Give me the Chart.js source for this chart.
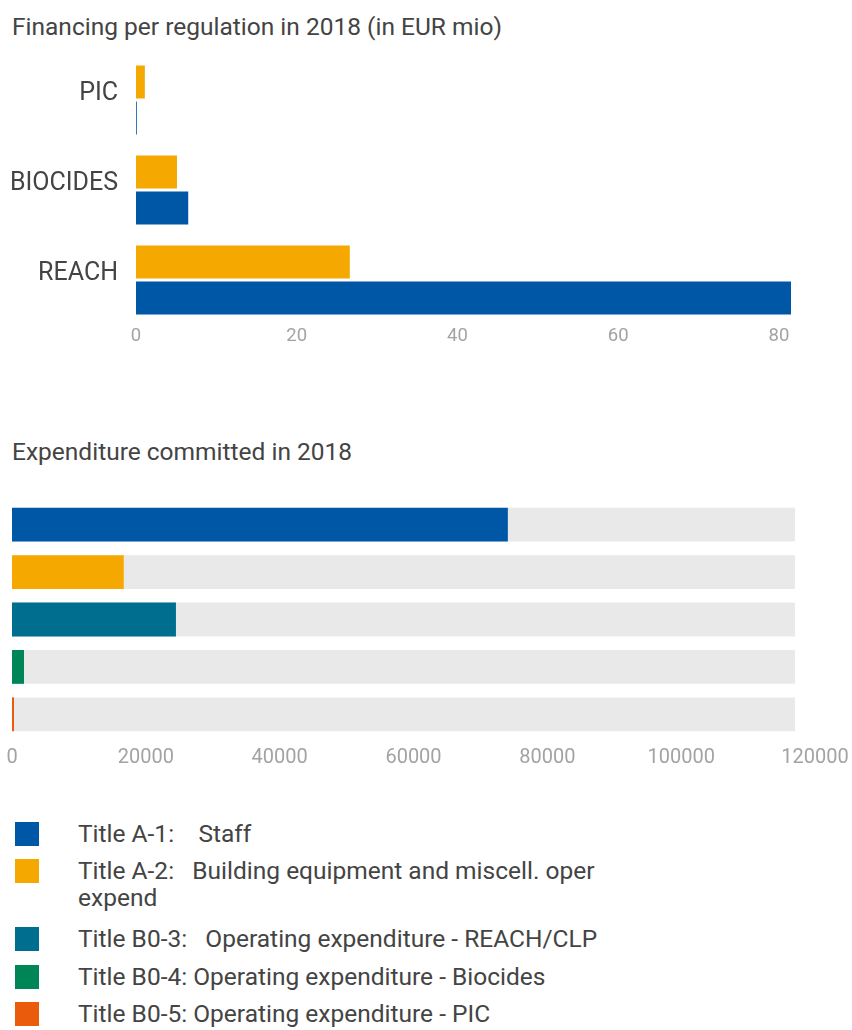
<!DOCTYPE html>
<html>
<head>
<meta charset="utf-8">
<script src="https://cdn.jsdelivr.net/npm/chart.js@4.4.1/dist/chart.umd.min.js"></script>
<style>
  body { margin: 0; background: #fff; width: 852px; height: 1030px; position: relative; overflow: hidden;
         font-family: Roboto, 'Noto Sans', sans-serif; color: #444; }
  .title { position: absolute; left: 12px; font-size: 24.5px; line-height: 24px; white-space: nowrap; }
  .box { position: absolute; left: 0; }
  .item { position: absolute; left: 0; width: 852px; }
  .item .sw { position: absolute; left: 15px; top: 2px; width: 24px; height: 24px; }
  .item .tx { position: absolute; left: 78px; font-size: 24.5px; line-height: 27px; white-space: pre; }
</style>
</head>
<body>
<div class="title" style="top:15px">Financing per regulation in 2018 (in EUR mio)</div>
<div class="box" style="top:50px"><canvas id="reg" width="852" height="310"></canvas></div>

<div class="title" style="top:440px">Expenditure committed in 2018</div>
<div class="box" style="top:480px"><canvas id="exp" width="852" height="300"></canvas></div>

<div id="legend"></div>

<script>
// top chart: financing per regulation (EUR mio)
const regions = ['PIC', 'BIOCIDES', 'REACH'];
const regSeriesA = [1.1, 5.1, 26.6];   // orange
const regSeriesB = [0.1, 6.5, 81.5];   // blue
const regTicks = [0, 20, 40, 60, 80];

// bottom chart: expenditure committed (EUR thousand)
const budgetLines = [
  'Title A-1:    Staff',
  'Title A-2:   Building equipment and miscell. oper\nexpend',
  'Title B0-3:   Operating expenditure - REACH/CLP',
  'Title B0-4: Operating expenditure - Biocides',
  'Title B0-5: Operating expenditure - PIC'
];
const committed = [74100, 16700, 24500, 1790, 300];
const available = [117000, 117000, 117000, 117000, 117000];
const expTicks = [0, 20000, 40000, 60000, 80000, 100000, 120000];

const lineColors = ['#0057a6', '#f5a800', '#006f8f', '#008556', '#ea5b0c'];
const tickColor = '#a3a3a3';

// keep the axes from adding their own label padding to the layout
const noPad = (scale) => { scale.paddingTop = 0; scale.paddingBottom = 0; scale.paddingLeft = 0; scale.paddingRight = 0; };

new Chart(document.getElementById('reg'), {
  type: 'bar',
  data: {
    labels: regions,
    datasets: [
      { label: 'Series A', data: regSeriesA, backgroundColor: '#f5a800' },
      { label: 'Series B', data: regSeriesB, backgroundColor: '#0057a6' }
    ]
  },
  options: {
    indexAxis: 'y',
    responsive: false,
    animation: false,
    layout: { padding: { left: 0, right: 61, top: 5, bottom: 0 } },
    categoryPercentage: 0.8,
    barPercentage: 0.917,
    plugins: { legend: { display: false }, tooltip: { enabled: false } },
    scales: {
      x: {
        min: 0,
        max: Math.max(...regSeriesB),
        afterBuildTicks: (scale) => { scale.ticks = regTicks.map(v => ({ value: v })); },
        afterFit: (scale) => { scale.height = 35; noPad(scale); },
        grid: { display: false, drawTicks: false },
        border: { display: false },
        ticks: { color: tickColor, font: { family: 'Roboto', size: 18.5 }, padding: 0 }
      },
      y: {
        afterFit: (scale) => { scale.width = 136; noPad(scale); },
        grid: { display: false, drawTicks: false },
        border: { display: false },
        ticks: { color: '#444', font: { family: 'Roboto', size: 25 }, padding: 18, labelOffset: -6 }
      }
    }
  }
});

new Chart(document.getElementById('exp'), {
  type: 'bar',
  data: {
    labels: budgetLines,
    datasets: [
      { label: 'Committed', data: committed, backgroundColor: lineColors, grouped: false },
      { label: 'Available', data: available, backgroundColor: '#e9e9e9', grouped: false }
    ]
  },
  options: {
    indexAxis: 'y',
    responsive: false,
    animation: false,
    layout: { padding: { left: 12, right: 37, top: 21, bottom: 0 } },
    categoryPercentage: 0.714,
    barPercentage: 1,
    plugins: { legend: { display: false }, tooltip: { enabled: false } },
    scales: {
      x: {
        min: 0,
        max: 120000,
        afterBuildTicks: (scale) => { scale.ticks = expTicks.map(v => ({ value: v })); },
        afterFit: (scale) => { scale.height = 42; noPad(scale); },
        grid: { display: false, drawTicks: false },
        border: { display: false },
        ticks: { color: tickColor, font: { family: 'Roboto', size: 20 }, padding: 8,
                 callback: (v) => String(v) }
      },
      y: { display: false }
    }
  }
});

// legend
const legendTops = [820, 857, 925, 963, 1000];
const legend = document.getElementById('legend');
budgetLines.forEach((name, i) => {
  const it = document.createElement('div');
  it.className = 'item';
  it.style.top = legendTops[i] + 'px';
  it.innerHTML = '<div class="sw" style="background:' + lineColors[i] + '"></div>';
  const tx = document.createElement('div');
  tx.className = 'tx';
  tx.textContent = name;
  it.appendChild(tx);
  legend.appendChild(it);
});
</script>
</body>
</html>
